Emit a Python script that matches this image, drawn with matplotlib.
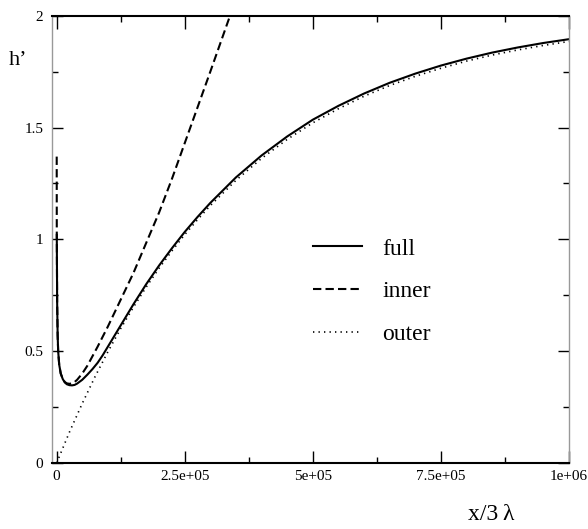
import matplotlib
matplotlib.use('Agg')
import matplotlib.pyplot as plt

plt.rcParams['font.family'] = ['Liberation Serif', 'DejaVu Serif']

# full solution h'(x)
x_full = [300, 1000, 2000, 3000, 5000, 8000, 1.2e4, 1.6e4, 2e4, 2.5e4, 3e4, 3.5e4,
          4e4, 5e4, 6e4, 7e4, 8e4, 9e4, 1e5, 1.25e5, 1.5e5, 1.75e5, 2e5, 2.25e5,
          2.5e5, 2.75e5, 3e5, 3.5e5, 4e5, 4.5e5, 5e5, 5.5e5, 6e5, 6.5e5, 7e5,
          7.5e5, 8e5, 8.5e5, 9e5, 9.5e5, 1e6]
h_full = [1.02, 0.72, 0.57, 0.50, 0.44, 0.40, 0.375, 0.36, 0.352, 0.348, 0.347, 0.349,
          0.355, 0.372, 0.395, 0.42, 0.448, 0.482, 0.52, 0.615, 0.71, 0.80, 0.883, 0.96,
          1.033, 1.10, 1.163, 1.277, 1.375, 1.46, 1.535, 1.597, 1.652, 1.70, 1.741,
          1.777, 1.808, 1.835, 1.858, 1.878, 1.895]

# inner approximation
x_inner = [150, 300, 1000, 2000, 3000, 5000, 8000, 1.2e4, 1.6e4, 2e4, 2.5e4, 3e4,
           3.5e4, 4e4, 5e4, 6e4, 8e4, 1e5, 1.25e5, 1.5e5, 1.75e5, 2e5, 2.25e5, 2.5e5,
           2.75e5, 3e5, 3.2e5, 3.4e5]
h_inner = [1.37, 1.03, 0.72, 0.57, 0.50, 0.44, 0.40, 0.376, 0.362, 0.356, 0.354, 0.356,
           0.362, 0.372, 0.40, 0.435, 0.52, 0.61, 0.73, 0.85, 0.985, 1.12, 1.27, 1.43,
           1.59, 1.75, 1.88, 2.01]

# outer approximation
x_outer = [0, 2.5e4, 5e4, 7.5e4, 1e5, 1.25e5, 1.5e5, 1.75e5, 2e5, 2.25e5, 2.5e5, 2.75e5,
           3e5, 3.5e5, 4e5, 4.5e5, 5e5, 5.5e5, 6e5, 6.5e5, 7e5, 7.5e5, 8e5, 8.5e5,
           9e5, 9.5e5, 1e6]
h_outer = [0.0, 0.138, 0.266, 0.386, 0.497, 0.601, 0.697, 0.787, 0.871, 0.948, 1.021, 1.088,
           1.151, 1.264, 1.362, 1.447, 1.521, 1.584, 1.640, 1.688, 1.729, 1.765, 1.797, 1.824,
           1.847, 1.867, 1.885]

x_ticks = [0, 2.5e5, 5e5, 7.5e5, 1e6]
x_ticklabels = ['0', '2.5e+05', '5e+05', '7.5e+05', '1e+06']
y_ticks = [0, 0.5, 1, 1.5, 2]
y_ticklabels = ['0', '0.5', '1', '1.5', '2']

fig = plt.figure(figsize=(5.88, 5.29), dpi=100)
ax = fig.add_axes([0.0876, 0.1248, 0.88, 0.8455])

ax.plot(x_full, h_full, color='black', lw=1.5, label='full')
ax.plot(x_inner, h_inner, color='black', lw=1.5, dashes=(4, 2), label='inner')
ax.plot(x_outer, h_outer, color='black', lw=1.2, linestyle=(0, (0.8, 2.5)), label='outer')

ax.set_xlim(-1e4, 1e6)
ax.set_ylim(0, 2)
ax.set_xticks(x_ticks)
ax.set_xticklabels(x_ticklabels)
ax.set_xticks([1.25e5, 3.75e5, 6.25e5, 8.75e5], minor=True)
ax.set_yticks(y_ticks)
ax.set_yticklabels(y_ticklabels)
ax.set_yticks([0.25, 0.75, 1.25, 1.75], minor=True)

ax.tick_params(which='both', direction='in', top=True, right=True, labelsize=11, width=1)
ax.tick_params(axis='x', which='major', length=9, pad=5)
ax.tick_params(axis='y', which='major', length=8, pad=6)
ax.tick_params(which='minor', length=4.3)

for side in ['left', 'right']:
    ax.spines[side].set_color('#999999')
    ax.spines[side].set_linewidth(1.0)
for side in ['top', 'bottom']:
    ax.spines[side].set_color('black')
    ax.spines[side].set_linewidth(1.5)

ax.text(-0.065, 0.90, 'h\u2019', transform=ax.transAxes, fontsize=16,
        ha='center', va='center')
fig.text(491 / 588, 1 - 515 / 529, 'x/3\u2009\u03bb', fontsize=17, ha='center', va='center')

ax.legend(loc='upper left', bbox_to_anchor=(0.505, 0.503), frameon=False, fontsize=17,
          handlelength=2.1, handletextpad=0.85, labelspacing=0.9, borderpad=0,
          borderaxespad=0)

fig.savefig('out.png', dpi=100)
